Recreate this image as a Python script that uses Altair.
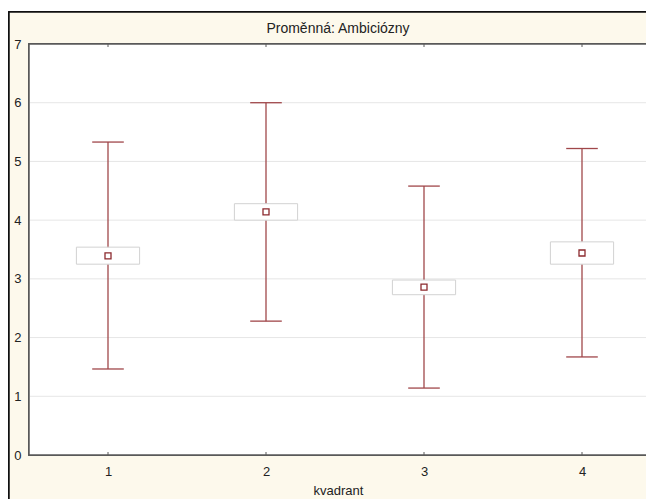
import altair as alt
import pandas as pd

categories = [1, 2, 3, 4]
means = [3.39, 4.14, 2.86, 3.44]
box_low = [3.25, 4.00, 2.73, 3.25]
box_high = [3.54, 4.28, 2.98, 3.63]
whisker_low = [1.465, 2.28, 1.14, 1.67]
whisker_high = [5.33, 6.00, 4.58, 5.22]
y_ticks = [0, 1, 2, 3, 4, 5, 6, 7]
title_text = ["Proměnná: Ambiciózny"]

W = 617
H = 411

df = pd.DataFrame({
    "kvadrant": categories,
    "mean": means,
    "blo": box_low,
    "bhi": box_high,
    "wlo": whisker_low,
    "whi": whisker_high,
})
grid_df = pd.DataFrame({"y": y_ticks})
title_df = pd.DataFrame({"t": title_text})

xscale = alt.Scale(domain=[0.5, 0.5 + W / 158.0], nice=False, zero=False)
yscale = alt.Scale(domain=[0, 7], nice=False, zero=True)

xaxis = alt.Axis(values=categories, format="d", grid=False, domain=False, ticks=False,
                 labelPadding=10, labelFontSize=13, labelFont="Liberation Sans",
                 labelColor="#222", title="kvadrant", titleFontSize=13,
                 titleFont="Liberation Sans", titleFontWeight="normal",
                 titleColor="#222", titlePadding=6, titleX=309, titleAnchor="start",
                 titleAlign="center", zindex=2)
yaxis = alt.Axis(values=y_ticks, format="d", grid=False, domain=False, ticks=False,
                 labelPadding=8, labelFontSize=13, labelFont="Liberation Sans",
                 labelColor="#222", title=None, zindex=2)

base = alt.Chart(df)

frame = base.mark_rect(fill="#fdf9ec", stroke="#111", strokeWidth=1.5).encode(
    x=alt.value(-20), x2=alt.value(W + 60),
    y=alt.value(-32), y2=alt.value(H + 120),
)
plot_bg = base.mark_rect(fill="white", stroke="#5a5a5a", strokeWidth=1.5).encode(
    x=alt.value(0), x2=alt.value(W + 60),
    y=alt.value(0), y2=alt.value(H),
)
title = alt.Chart(title_df).mark_text(
    fontSize=14, font="Liberation Sans", color="#222", align="center", baseline="middle"
).encode(
    text="t:N",
    x=alt.value(309), y=alt.value(-15),
)
grid = alt.Chart(grid_df).transform_filter("datum.y > 0 && datum.y < 7").mark_rule(
    color="#e6e6e6", strokeWidth=1
).encode(
    y=alt.Y("y:Q", scale=yscale, axis=yaxis),
    x=alt.value(1), x2=alt.value(W + 60),
)
xticks_bottom = base.mark_rule(color="#5a5a5a", strokeWidth=1).encode(
    x=alt.X("kvadrant:Q", scale=xscale, axis=xaxis),
    y=alt.value(H - 3), y2=alt.value(H),
)
xticks_top = base.mark_rule(color="#5a5a5a", strokeWidth=1).encode(
    x=alt.X("kvadrant:Q", scale=xscale),
    y=alt.value(0), y2=alt.value(3),
)
whisk = base.mark_rule(color="#a0474a", strokeWidth=1.3).encode(
    x=alt.X("kvadrant:Q", scale=xscale),
    y=alt.Y("wlo:Q", scale=yscale),
    y2="whi:Q",
)
caps_hi = base.transform_calculate(a="datum.kvadrant - 0.1", b="datum.kvadrant + 0.1").mark_rule(
    color="#a0474a", strokeWidth=1.3
).encode(
    x=alt.X("a:Q", scale=xscale), x2="b:Q",
    y=alt.Y("whi:Q", scale=yscale),
)
caps_lo = base.transform_calculate(a="datum.kvadrant - 0.1", b="datum.kvadrant + 0.1").mark_rule(
    color="#a0474a", strokeWidth=1.3
).encode(
    x=alt.X("a:Q", scale=xscale), x2="b:Q",
    y=alt.Y("wlo:Q", scale=yscale),
)
boxes = base.transform_calculate(a="datum.kvadrant - 0.2", b="datum.kvadrant + 0.2").mark_rect(
    fill="white", stroke="#d2d2d2", strokeWidth=1
).encode(
    x=alt.X("a:Q", scale=xscale), x2="b:Q",
    y=alt.Y("blo:Q", scale=yscale), y2="bhi:Q",
)
pts = base.mark_square(filled=False, fill="white", stroke="#8c2a2e", strokeWidth=1.3, size=36, opacity=1).encode(
    x=alt.X("kvadrant:Q", scale=xscale),
    y=alt.Y("mean:Q", scale=yscale),
)

chart = alt.layer(
    frame, plot_bg, title, grid, xticks_bottom, xticks_top, whisk, caps_hi, caps_lo, boxes, pts
).properties(
    width=W, height=H,
    autosize=alt.AutoSizeParams(type="none"),
    padding={"left": 21, "top": 36, "right": 0, "bottom": 44},
).configure(background="white").configure_view(stroke=None)

chart.save("out.html", embed_options={"renderer": "svg", "actions": False})
